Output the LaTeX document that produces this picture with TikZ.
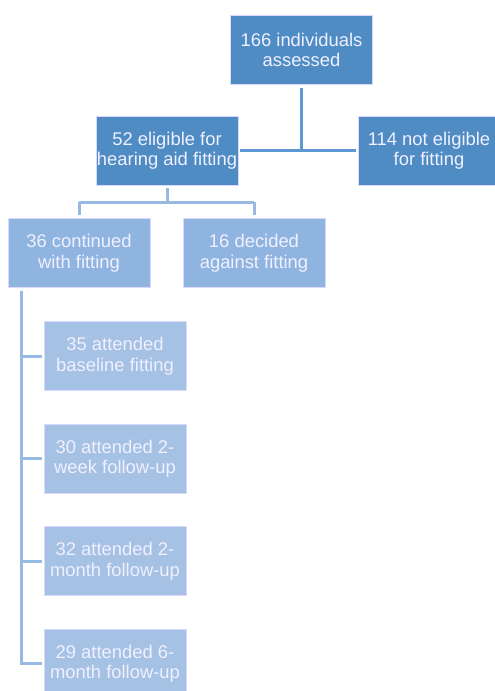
\documentclass[tikz,border=0pt]{standalone}
\usepackage{fontspec}
\setmainfont{Liberation Sans}
\usepackage{xcolor}
\usetikzlibrary{positioning,calc}
\definecolor{darkbox}{HTML}{4F8CC4}
\definecolor{midbox}{HTML}{8FB4E0}
\definecolor{lightbox}{HTML}{A5C1E4}
\definecolor{darkline}{HTML}{5D98D4}
\definecolor{lightline}{HTML}{98BAE2}

\begin{document}
\begin{tikzpicture}[x=1pt,y=-1pt,node distance=32.8pt]
  \tikzstyle{box}=[draw=white!85!blue,line width=0.8pt,align=center,text=white!94!blue,minimum width=142pt,minimum height=69pt,inner sep=1pt,font=\fontsize{18.4}{20.5}\selectfont]
  \tikzstyle{lvlone}=[box,fill=darkbox]
  \tikzstyle{lvltwo}=[box,fill=midbox]
  \tikzstyle{lvlthree}=[box,fill=lightbox]
  \tikzstyle{link}=[line width=3pt]
  \useasboundingbox (0,0) rectangle (495,691);
  \node[lvlone] (assessed) at (301.5,50) {166 individuals\\assessed};
  \node[lvlone] (eligible) at (167,150.5) {52 eligible for\\hearing aid fitting};
  \node[lvlone] (noteligible) at (429,150.5) {114 not eligible\\for fitting};
  \node[lvltwo] (continued) at (79,253) {36 continued\\with fitting};
  \node[lvltwo] (against) at (254,253) {16 decided\\against fitting};
  \node[lvlthree] (baseline) at (115,356) {35 attended\\baseline fitting};
  \node[lvlthree,below=of baseline] (twoweek) {30 attended 2-\\week follow-up};
  \node[lvlthree,below=of twoweek] (twomonth) {32 attended 2-\\month follow-up};
  \node[lvlthree,below=of twomonth] (sixmonth) {29 attended 6-\\month follow-up};
  % first split
  \draw[link,darkline] ([yshift=-3pt]assessed.south) -- (assessed.south |- eligible.east);
  \draw[link,darkline] ([xshift=2pt]eligible.east) -- ([xshift=-2pt]noteligible.west);
  % second split
  \coordinate (fork) at ($(eligible.south)+(0,17)$);
  \draw[link,lightline] ([yshift=-3pt]eligible.south) -- (fork);
  \draw[link,lightline] (continued.north |- fork) -- (against.north |- fork);
  \draw[link,lightline] (continued.north |- fork) -- ([yshift=3pt]continued.north);
  \draw[link,lightline] (against.north |- fork) -- ([yshift=3pt]against.north);
  % follow-up trunk
  \coordinate (trunk) at ($(continued.south west)+(14,3)$);
  \draw[link,lightline] (trunk) -- (trunk |- sixmonth.west);
  \foreach \b in {baseline,twoweek,twomonth,sixmonth}
    \draw[link,lightline] ([xshift=-1.5pt]trunk |- \b.west) -- ([xshift=-2pt]\b.west);
\end{tikzpicture}
\end{document}
